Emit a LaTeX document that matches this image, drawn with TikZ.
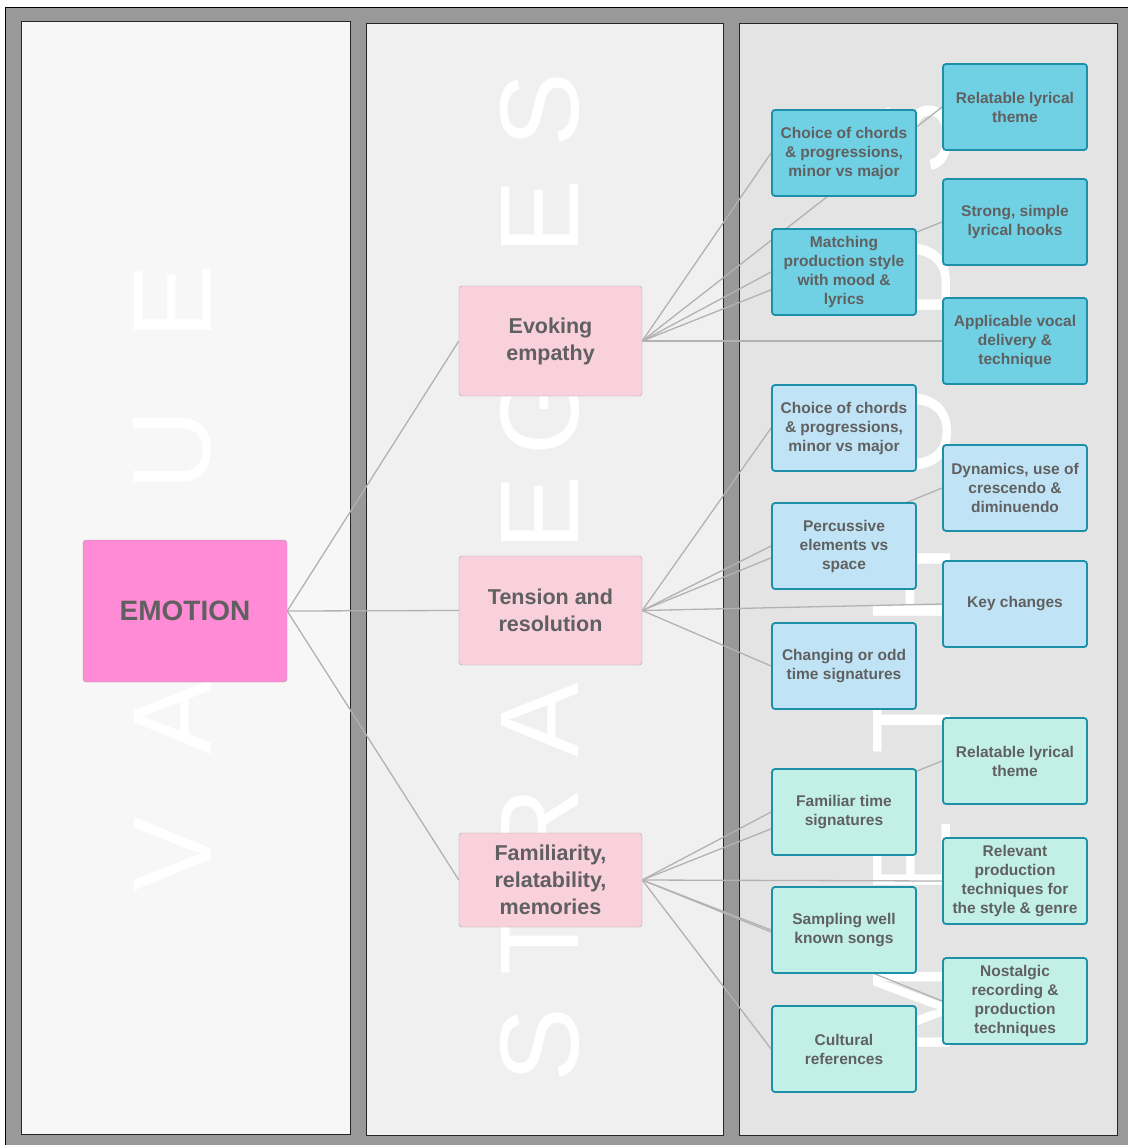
\documentclass[tikz,border=0pt]{standalone}
\usepackage{fontspec}
\setmainfont{Liberation Sans}
\definecolor{framegray}{HTML}{999999}
\definecolor{paneA}{HTML}{F7F7F7}
\definecolor{paneB}{HTML}{F0F0F0}
\definecolor{paneC}{HTML}{E4E4E4}
\definecolor{emopink}{HTML}{FF8AD6}
\definecolor{stratpink}{HTML}{F9D1DC}
\definecolor{boxgray}{HTML}{A6A6A6}
\definecolor{tealb}{HTML}{1E8FA8}
\definecolor{mdark}{HTML}{70D0E4}
\definecolor{mlight}{HTML}{C0E4F6}
\definecolor{mmint}{HTML}{C2F0E6}
\definecolor{txt}{HTML}{606060}
\definecolor{linegray}{HTML}{B2B2B2}
\pgfdeclarelayer{back}
\pgfdeclarelayer{edges}
\pgfsetlayers{back,edges,main}
\begin{document}
\begin{tikzpicture}[x=1pt,y=-1pt,
  panel/.style={draw=black!85, line width=0.8pt},
  bgl/.style={text=white, font=\fontsize{112}{112}\selectfont, rotate=90, inner sep=0pt, anchor=center},
  emo/.style={draw=boxgray, fill=emopink, rounded corners=3pt, minimum width=204pt, minimum height=142pt, inner sep=0pt, font=\bfseries\fontsize{28}{32}\selectfont, text=txt},
  strat/.style={draw=boxgray, fill=stratpink, rounded corners=3pt, minimum width=183pt, inner sep=0pt, align=center, font=\bfseries\fontsize{21.5}{27}\selectfont, text=txt},
  meth/.style={draw=tealb, line width=1.8pt, rounded corners=3pt, minimum width=144pt, minimum height=86pt, inner sep=0pt, align=center, font=\bfseries\fontsize{15.5}{19}\selectfont, text=txt},
  dk/.style={meth, fill=mdark},
  lt/.style={meth, fill=mlight},
  mt/.style={meth, fill=mmint},
  conn/.style={draw=linegray, line width=1.3pt}]
\useasboundingbox (0,0) rectangle (1128,1145);

% nodes
\node[emo] (emo) at (185,611) {EMOTION};
\node[strat, minimum height=110pt] (ev) at (550.5,341) {Evoking\\empathy};
\node[strat, minimum height=109pt] (te) at (550.5,610.5) {Tension and\\resolution};
\node[strat, minimum height=94pt] (fa) at (550.5,880) {Familiarity,\\relatability,\\memories};

\node[dk] (a1) at (844,153) {Choice of chords\\\& progressions,\\minor vs major};
\node[dk] (a2) at (844,272) {Matching\\production style\\with mood \&\\lyrics};
\node[dk] (b1) at (1015,107) {Relatable lyrical\\theme};
\node[dk] (b2) at (1015,222) {Strong, simple\\lyrical hooks};
\node[dk] (b3) at (1015,341) {Applicable vocal\\delivery \&\\technique};

\node[lt] (a3) at (844,428) {Choice of chords\\\& progressions,\\minor vs major};
\node[lt] (a4) at (844,546) {Percussive\\elements vs\\space};
\node[lt] (a5) at (844,666) {Changing or odd\\time signatures};
\node[lt] (b4) at (1015,488) {Dynamics, use of\\crescendo \&\\diminuendo};
\node[lt] (b5) at (1015,604) {Key changes};

\node[mt] (a6) at (844,812) {Familiar time\\signatures};
\node[mt] (a7) at (844,930) {Sampling well\\known songs};
\node[mt] (a8) at (844,1049) {Cultural\\references};
\node[mt] (b6) at (1015,761) {Relatable lyrical\\theme};
\node[mt] (b7) at (1015,881) {Relevant\\production\\techniques for\\the style \& genre};
\node[mt] (b8) at (1015,1001) {Nostalgic\\recording \&\\production\\techniques};

\begin{pgfonlayer}{back}
  \fill[framegray] (5,7) rectangle (1128,1145);
  \draw[black, line width=0.8pt] (5,1145) -- (5,7) -- (1128,7);
  \draw[panel, fill=paneA] (21,21) rectangle (350,1134);
  \draw[panel, fill=paneB] (366,23) rectangle (723,1135);
  \draw[panel, fill=paneC] (739,23) rectangle (1117,1135);
  \foreach \l/\yy in {V/854,A/717,L/583,U/450,E/302}
    \node[bgl] (val\yy) at (173,\yy) {\l};
  \foreach \l/\yy in {S/1045,T/941,R/828,A/720,T/617,E/513,G/412,I/315,E/217,S/110}
    \node[bgl] (str\yy) at (540,\yy) {\l};
  \foreach \l/\yy in {M/1010,E/857,T/720,H/585,O/432,D/279,S/138}
    \node[bgl] (met\yy) at (912,\yy) {\l};
\end{pgfonlayer}

\begin{pgfonlayer}{edges}
  \draw[conn] (emo.east) -- (ev.west);
  \draw[conn] (emo.east) -- (te.west);
  \draw[conn] (emo.east) -- (fa.west);
  \foreach \m in {a1,a2,b1,b2,b3} \draw[conn] (ev.east) -- (\m.west);
  \foreach \m in {a3,a4,a5,b4,b5} \draw[conn] (te.east) -- (\m.west);
  \foreach \m in {a6,a7,a8,b6,b7,b8} \draw[conn] (fa.east) -- (\m.west);
\end{pgfonlayer}
\end{tikzpicture}
\end{document}
